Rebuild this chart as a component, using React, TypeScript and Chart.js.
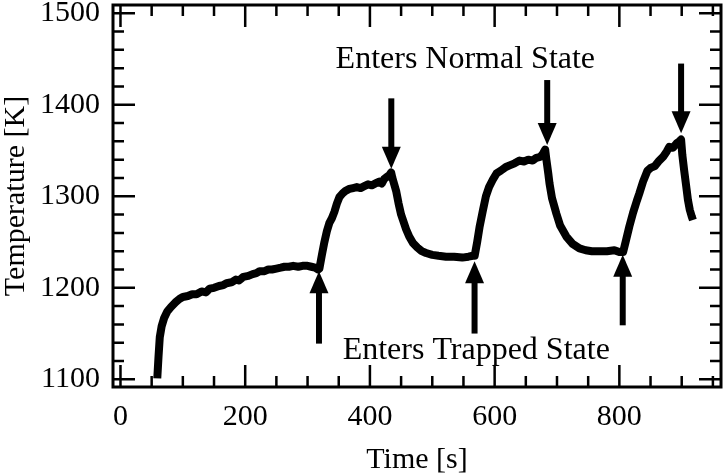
import React, { useEffect, useRef } from 'react';
import { Chart, registerables } from 'chart.js';

Chart.register(...registerables);

// ---- data ----
const timeS: number[] = [
  59, 61, 63, 66, 70, 75, 81, 88, 95, 100, 108, 115, 122, 130, 137, 143, 150, 158, 165, 170,
  178, 185, 190, 197, 205, 212, 218, 223, 230, 237, 243, 250, 257, 263, 270, 277, 285, 292, 300, 306,
  312, 317,
  319, 323, 327, 331, 335, 339, 343, 347, 351, 356, 361, 367, 373, 379, 385, 391, 397, 403, 409, 415,
  419, 423, 427, 431, 434,
  436, 439, 442, 446, 450, 453, 458, 463, 469, 476, 483, 490, 500, 510, 522, 535, 548, 558, 565, 568,
  572, 576, 581, 586, 591, 597, 603, 610, 618, 625, 632, 640, 647, 654, 661, 667, 673, 677, 681,
  683, 686, 688, 692, 699, 705, 715, 725, 736, 746, 756, 768, 780, 792, 800, 806,
  810, 816, 822, 828, 832, 838, 845, 850, 857, 864, 870, 876, 880, 886, 892, 896, 899,
  901, 904, 907, 910, 913, 916, 918,
];
const tempK: number[] = [
  1101, 1125, 1146, 1158, 1167, 1174, 1179, 1184, 1188, 1190, 1191, 1193, 1193, 1196, 1195, 1199, 1200, 1202, 1203, 1205,
  1206, 1209, 1208, 1212, 1213, 1215, 1216, 1218, 1218, 1220, 1220, 1221, 1222, 1223, 1223, 1224, 1223, 1224, 1224, 1223,
  1222, 1220,
  1221, 1236, 1250, 1262, 1271, 1276, 1283, 1292, 1299, 1303, 1306, 1308, 1309, 1310, 1309, 1311, 1313, 1312, 1314, 1316,
  1314, 1319, 1321, 1323, 1326,
  1320, 1313, 1306, 1292, 1280, 1274, 1264, 1256, 1249, 1244, 1240, 1238, 1236, 1235, 1234, 1234, 1233, 1234, 1235, 1235,
  1250, 1267, 1284, 1300, 1310, 1318, 1325, 1328, 1332, 1334, 1336, 1339, 1338, 1340, 1339, 1342, 1343, 1346, 1351,
  1340, 1325, 1314, 1298, 1281, 1268, 1256, 1248, 1243, 1241, 1240, 1240, 1240, 1241, 1239, 1239,
  1250, 1267, 1282, 1295, 1303, 1316, 1328, 1331, 1333, 1339, 1343, 1349, 1354, 1353, 1358, 1360, 1362,
  1345, 1328, 1312, 1296, 1285, 1278, 1274,
];

// axis ranges and ticks
const xMin = -12;
const xMax = 963;
const xMinorStep = 50;
const xMajorStep = 200;
const yMin = 1091.6;
const yMax = 1509;
const yMinorStep = 20;
const yMajorStep = 100;

// annotations (data coordinates)
const normalLabel = 'Enters Normal State';
const normalLabelPos = [553, 1440];
const normalArrowX = [434.3, 684.3, 899];
const normalArrowTail = [1407, 1427, 1445];
const normalArrowTip = [1330, 1356, 1369];

const trappedLabel = 'Enters Trapped State';
const trappedLabelPos = [570.5, 1122];
const trappedArrowX = [318.3, 567.8, 805.4];
const trappedArrowTail = [1139, 1150, 1159];
const trappedArrowTip = [1218, 1229, 1236];

const FONT = "'Liberation Serif', 'Times New Roman', Times, serif";

function drawArrow(ctx: CanvasRenderingContext2D, x: number, y0: number, y1: number) {
  const dir = y1 > y0 ? 1 : -1;
  const headLen = 22;
  const headHalf = 9.5;
  ctx.save();
  ctx.strokeStyle = '#000';
  ctx.fillStyle = '#000';
  ctx.lineWidth = 6;
  ctx.lineCap = 'butt';
  ctx.beginPath();
  ctx.moveTo(x, y0);
  ctx.lineTo(x, y1 - dir * headLen + dir * 2);
  ctx.stroke();
  ctx.beginPath();
  ctx.moveTo(x, y1);
  ctx.lineTo(x - headHalf, y1 - dir * headLen);
  ctx.lineTo(x + headHalf, y1 - dir * headLen);
  ctx.closePath();
  ctx.fill();
  ctx.restore();
}

const framePlugin = {
  id: 'frameTicksArrows',
  afterDraw(chart: any) {
    const { ctx, chartArea } = chart;
    const xs = chart.scales.x;
    const ys = chart.scales.y;
    const { left, right, top, bottom } = chartArea;
    ctx.save();
    ctx.strokeStyle = '#000';
    ctx.lineWidth = 3;
    ctx.strokeRect(left, top, right - left, bottom - top);
    ctx.lineWidth = 2.5;
    ctx.beginPath();
    for (const t of xs.ticks) {
      const v = t.value;
      if (v <= xMin || v >= xMax) continue;
      const px = xs.getPixelForValue(v);
      const len = Math.round(v) % xMajorStep === 0 ? 22 : 11;
      ctx.moveTo(px, bottom);
      ctx.lineTo(px, bottom - len);
      ctx.moveTo(px, top);
      ctx.lineTo(px, top + len);
    }
    for (const t of ys.ticks) {
      const v = t.value;
      if (v <= yMin || v >= yMax) continue;
      const py = ys.getPixelForValue(v);
      const len = Math.round(v) % yMajorStep === 0 ? 22 : 11;
      ctx.moveTo(left, py);
      ctx.lineTo(left + len, py);
      ctx.moveTo(right, py);
      ctx.lineTo(right - len, py);
    }
    ctx.stroke();
    ctx.restore();

    for (let i = 0; i < normalArrowX.length; i++) {
      drawArrow(
        ctx,
        xs.getPixelForValue(normalArrowX[i]),
        ys.getPixelForValue(normalArrowTail[i]),
        ys.getPixelForValue(normalArrowTip[i])
      );
    }
    for (let i = 0; i < trappedArrowX.length; i++) {
      drawArrow(
        ctx,
        xs.getPixelForValue(trappedArrowX[i]),
        ys.getPixelForValue(trappedArrowTail[i]),
        ys.getPixelForValue(trappedArrowTip[i])
      );
    }
    ctx.save();
    ctx.fillStyle = '#000';
    ctx.font = `32px ${FONT}`;
    ctx.textAlign = 'center';
    ctx.textBaseline = 'alphabetic';
    ctx.fillText(normalLabel, xs.getPixelForValue(normalLabelPos[0]), ys.getPixelForValue(normalLabelPos[1]));
    ctx.fillText(trappedLabel, xs.getPixelForValue(trappedLabelPos[0]), ys.getPixelForValue(trappedLabelPos[1]));
    ctx.restore();
  },
};

export default function App() {
  const canvasRef = useRef<HTMLCanvasElement | null>(null);

  useEffect(() => {
    const canvas = canvasRef.current;
    if (!canvas) return;
    const chart = new Chart(canvas, {
      type: 'line',
      data: {
        datasets: [
          {
            data: timeS.map((t, i) => ({ x: t, y: tempK[i] })),
            borderColor: '#000',
            borderWidth: 8,
            pointRadius: 0,
            tension: 0,
            borderJoinStyle: 'round',
            borderCapStyle: 'butt',
            fill: false,
          },
        ],
      },
      options: {
        animation: false,
        responsive: false,
        devicePixelRatio: 1,
        layout: { padding: { top: 5, right: 4, left: 0, bottom: 0 } },
        plugins: { legend: { display: false }, tooltip: { enabled: false } },
        scales: {
          x: {
            type: 'linear',
            min: xMin,
            max: xMax,
            grid: { display: false, drawTicks: false },
            border: { display: false },
            ticks: {
              stepSize: xMinorStep,
              autoSkip: false,
              maxRotation: 0,
              minRotation: 0,
              includeBounds: false,
              maxTicksLimit: 1000,
              padding: 12,
              color: '#000',
              font: { family: FONT, size: 30 },
              callback: (v: any) => (Math.round(Number(v)) % xMajorStep === 0 ? String(Math.round(Number(v))) : ''),
            },
            title: {
              display: true,
              text: 'Time [s]',
              color: '#000',
              font: { family: FONT, size: 30, lineHeight: 1 },
              padding: { top: 0, bottom: 0 },
            },
            afterFit: (s: any) => {
              s.height = 88;
              s.paddingLeft = 0;
              s.paddingRight = 0;
            },
          },
          y: {
            type: 'linear',
            min: yMin,
            max: yMax,
            grid: { display: false, drawTicks: false },
            border: { display: false },
            ticks: {
              stepSize: yMinorStep,
              autoSkip: false,
              includeBounds: false,
              maxTicksLimit: 1000,
              padding: 13,
              color: '#000',
              font: { family: FONT, size: 30 },
              callback: (v: any) => (Math.round(Number(v)) % yMajorStep === 0 ? String(Math.round(Number(v))) : ''),
            },
            title: {
              display: true,
              text: 'Temperature [K]',
              color: '#000',
              font: { family: FONT, size: 30, lineHeight: 1 },
              padding: { top: 1, bottom: 0 },
            },
            afterFit: (s: any) => {
              s.width = 113;
              s.paddingTop = 0;
              s.paddingBottom = 0;
            },
          },
        },
      },
      plugins: [framePlugin],
    } as any);
    return () => chart.destroy();
  }, []);

  return (
    <div style={{ position: 'absolute', left: 0, top: 0, width: 725, height: 475, background: '#fff' }}>
      <canvas ref={canvasRef} width={725} height={475} style={{ width: 725, height: 475, display: 'block' }} />
    </div>
  );
}
